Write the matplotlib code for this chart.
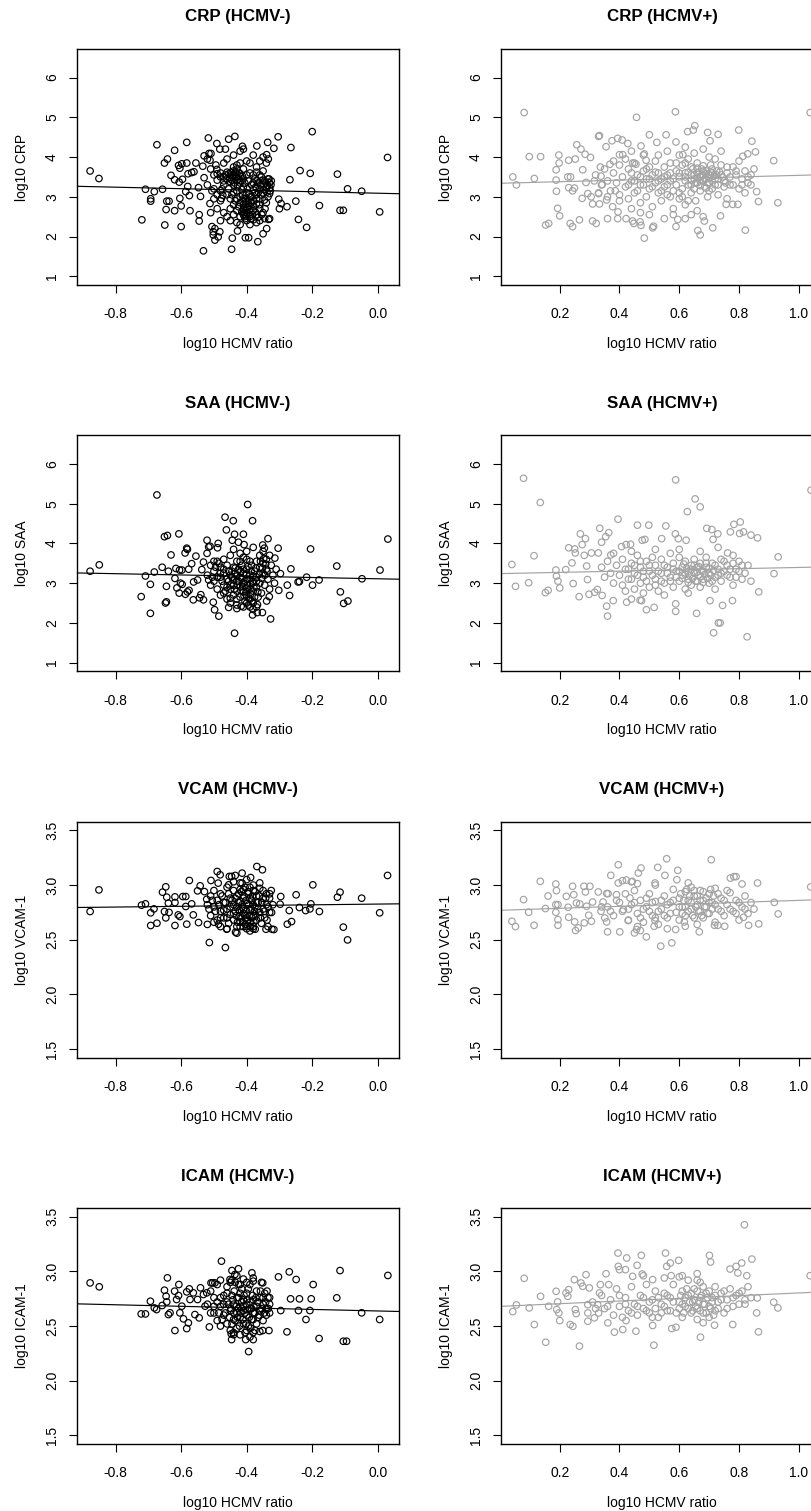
import numpy as np
import matplotlib
matplotlib.use('Agg')
import matplotlib.pyplot as plt
from matplotlib.ticker import FormatStrFormatter

plt.rcParams['font.family'] = ['Liberation Sans', 'DejaVu Sans']
plt.rcParams['axes.unicode_minus'] = False

# ---- values: (log10 HCMV ratio, log10 marker) ----
crp_neg = [
    (-0.878, 3.65), (-0.851, 3.46), (-0.72, 2.42), (-0.709, 3.19), (-0.693, 2.95), (-0.693, 2.89),
    (-0.682, 3.13), (-0.674, 4.31), (-0.657, 3.19), (-0.651, 3.85), (-0.642, 3.95), (-0.65, 2.29),
    (-0.646, 2.68), (-0.644, 2.89), (-0.637, 2.89), (-0.631, 3.54), (-0.62, 3.43), (-0.62, 4.17),
    (-0.62, 2.65), (-0.608, 3.79), (-0.604, 3.72), (-0.598, 3.83), (-0.606, 3.37), (-0.596, 3.44),
    (-0.604, 2.96), (-0.6, 2.77), (-0.6, 2.25), (-0.583, 4.37), (-0.583, 3.85), (-0.579, 3.58),
    (-0.586, 3.13), (-0.58, 3.26), (-0.573, 2.65), (-0.568, 3.61), (-0.561, 3.63), (-0.575, 3.03),
    (-0.555, 3.85), (-0.547, 3.23), (-0.545, 2.55), (-0.545, 2.39), (-0.541, 3.01), (-0.534, 3.77),
    (-0.532, 1.64), (-0.53, 3.48), (-0.53, 4.03), (-0.517, 4.48), (-0.515, 4.09), (-0.509, 4.09),
    (-0.512, 3.92), (-0.512, 2.83), (-0.506, 3.15), (-0.506, 2.25), (-0.502, 2.12), (-0.502, 2.04),
    (-0.497, 2.2), (-0.497, 1.91), (-0.491, 4.34), (-0.494, 3.8), (-0.491, 3.69), (-0.487, 1.99),
    (-0.482, 2.12), (-0.482, 4.2), (-0.477, 2.96), (-0.473, 3.04), (-0.465, 4.2), (-0.455, 4.45),
    (-0.436, 4.52), (-0.444, 1.96), (-0.446, 1.68), (-0.428, 2.14), (-0.413, 4.27), (-0.404, 1.97),
    (-0.394, 1.97), (-0.366, 1.87), (-0.35, 2.07), (-0.339, 2.2), (-0.333, 2.43), (-0.304, 4.51),
    (-0.336, 4.37), (-0.369, 4.28), (-0.317, 4.22), (-0.339, 4.06), (-0.334, 3.95), (-0.302, 2.94),
    (-0.3, 2.7), (-0.295, 2.83), (-0.277, 2.75), (-0.265, 4.24), (-0.268, 3.43), (-0.25, 2.89),
    (-0.242, 2.43), (-0.237, 3.66), (-0.217, 2.23), (-0.206, 3.59), (-0.202, 3.14), (-0.2, 4.64),
    (-0.178, 2.78), (-0.123, 3.57), (-0.115, 2.66), (-0.105, 2.66), (-0.092, 3.2), (-0.049, 3.14),
    (0.006, 2.62), (0.03, 3.99),
    (-0.50, 3.55), (-0.49, 3.42), (-0.48, 3.60), (-0.47, 3.50), (-0.47, 3.30), (-0.46, 3.62),
    (-0.46, 3.45), (-0.455, 3.20), (-0.45, 3.55), (-0.45, 3.38), (-0.445, 3.05), (-0.44, 3.65),
    (-0.44, 3.48), (-0.44, 3.30), (-0.435, 2.90), (-0.43, 3.58), (-0.43, 3.40), (-0.43, 3.15),
    (-0.425, 2.75), (-0.42, 3.52), (-0.42, 3.35), (-0.42, 3.00), (-0.415, 2.62), (-0.41, 3.45),
    (-0.41, 3.25), (-0.41, 2.95), (-0.41, 2.80), (-0.41, 2.68), (-0.41, 2.55), (-0.405, 2.45),
    (-0.40, 3.10), (-0.40, 2.88), (-0.40, 2.72), (-0.40, 2.60), (-0.40, 2.40), (-0.395, 3.40),
    (-0.39, 3.00), (-0.39, 2.78), (-0.39, 2.50), (-0.385, 3.30), (-0.38, 3.18), (-0.38, 2.90),
    (-0.38, 2.65), (-0.38, 2.42), (-0.375, 3.45), (-0.37, 3.05), (-0.37, 2.82), (-0.37, 2.55),
    (-0.365, 3.35), (-0.36, 3.20), (-0.36, 2.95), (-0.36, 2.70), (-0.355, 3.50), (-0.35, 3.30),
    (-0.35, 3.10), (-0.35, 2.60), (-0.345, 3.40), (-0.34, 3.25), (-0.34, 2.85), (-0.335, 3.45),
    (-0.33, 3.35), (-0.33, 3.22), (-0.33, 3.08), (-0.325, 3.40), (-0.33, 2.45), (-0.345, 2.45),
    (-0.47, 3.85), (-0.46, 3.95), (-0.44, 4.05), (-0.43, 3.80), (-0.42, 4.15), (-0.41, 4.20),
    (-0.40, 3.90), (-0.39, 3.85), (-0.38, 4.05), (-0.37, 3.75), (-0.36, 3.90), (-0.35, 4.00),
    (-0.34, 3.85), (-0.48, 2.90), (-0.47, 2.60), (-0.46, 2.50), (-0.45, 2.40), (-0.44, 2.55),
    (-0.43, 2.35), (-0.42, 2.30), (-0.39, 2.30), (-0.37, 2.35), (-0.36, 2.40), (-0.52, 3.95),
    (-0.51, 3.70), (-0.50, 3.20), (-0.50, 2.95), (-0.49, 3.05), (-0.49, 2.70), (-0.48, 3.15),
    (-0.52, 3.30), (-0.51, 2.60), (-0.48, 2.40),
]
crp_neg_core = [
    (-0.455, 3.58), (-0.452, 3.48), (-0.448, 3.62), (-0.445, 3.42), (-0.442, 3.55), (-0.438, 3.35),
    (-0.435, 3.62), (-0.432, 3.50), (-0.428, 3.28), (-0.425, 3.45), (-0.422, 3.60), (-0.418, 3.40),
    (-0.415, 3.18), (-0.413, 3.52), (-0.412, 3.05), (-0.411, 2.88), (-0.409, 2.72), (-0.408, 2.60),
    (-0.407, 2.50), (-0.406, 3.35), (-0.404, 2.95), (-0.403, 2.82), (-0.402, 2.66), (-0.401, 2.52),
    (-0.398, 3.20), (-0.397, 2.75), (-0.396, 2.58), (-0.394, 2.90), (-0.392, 3.08), (-0.390, 2.68),
    (-0.388, 2.45), (-0.386, 2.85), (-0.384, 3.00), (-0.382, 2.55), (-0.380, 3.35), (-0.378, 2.75),
    (-0.376, 3.10), (-0.374, 2.62), (-0.372, 3.25), (-0.370, 2.95), (-0.368, 3.40), (-0.366, 2.48),
    (-0.364, 3.12), (-0.362, 2.80), (-0.358, 3.30), (-0.356, 3.05), (-0.352, 3.42), (-0.348, 3.18),
    (-0.346, 2.92), (-0.342, 3.35), (-0.338, 3.12), (-0.336, 3.28), (-0.332, 3.45), (-0.328, 3.15),
    (-0.326, 3.30), (-0.335, 3.00), (-0.344, 2.70), (-0.354, 2.55), (-0.43, 3.70), (-0.44, 3.75),
    (-0.42, 3.85), (-0.41, 3.70), (-0.40, 3.55), (-0.39, 3.60), (-0.38, 3.55), (-0.37, 3.62),
    (-0.36, 3.55), (-0.35, 3.65), (-0.47, 3.40), (-0.465, 3.55), (-0.48, 3.50), (-0.49, 3.58),
    (-0.475, 3.20), (-0.46, 3.05), (-0.45, 2.95), (-0.44, 2.80), (-0.43, 2.65), (-0.42, 2.50),
    (-0.43, 2.95), (-0.44, 3.12), (-0.42, 2.85), (-0.45, 2.70),
]

crp_pos = [
    (0.043, 3.5), (0.055, 3.3), (0.081, 5.12), (0.098, 4.01), (0.115, 3.46), (0.136, 4.01),
    (0.153, 2.29), (0.163, 2.33), (0.188, 3.42), (0.189, 3.14), (0.193, 2.71), (0.197, 4.05),
    (0.198, 3.85), (0.2, 2.52), (0.188, 3.68), (0.23, 3.92), (0.227, 3.5), (0.236, 3.5),
    (0.23, 3.23), (0.235, 2.33), (0.243, 2.25), (0.243, 3.15), (0.249, 3.22), (0.252, 3.95),
    (0.257, 4.31), (0.266, 2.42), (0.271, 4.2), (0.277, 3.68), (0.275, 2.96), (0.285, 4.07),
    (0.288, 3.36), (0.294, 3.08), (0.303, 3.99), (0.305, 3.0), (0.31, 2.82), (0.31, 2.39),
    (0.322, 2.33), (0.316, 3.4), (0.33, 4.52), (0.333, 4.54), (0.336, 3.75), (0.338, 3.52),
    (0.33, 3.08), (0.333, 2.82), (0.342, 3.31), (0.355, 4.26), (0.357, 2.92), (0.36, 2.45),
    (0.368, 3.82), (0.375, 4.41), (0.394, 4.47), (0.409, 4.43), (0.377, 2.75), (0.386, 3.15),
    (0.394, 2.45), (0.395, 2.62), (0.4, 4.06), (0.411, 4.06), (0.422, 2.45), (0.444, 2.39),
    (0.448, 2.33), (0.428, 4.34), (0.444, 3.85), (0.455, 3.82), (0.457, 5.0), (0.469, 2.37),
    (0.472, 2.28), (0.483, 1.96), (0.472, 4.28), (0.5, 4.56), (0.483, 4.08), (0.489, 3.92),
    (0.511, 2.22), (0.514, 2.26), (0.525, 4.37), (0.556, 4.56), (0.587, 5.14), (0.589, 4.38),
    (0.589, 2.25), (0.595, 2.43), (0.612, 4.06), (0.628, 4.64), (0.647, 4.68), (0.652, 4.79),
    (0.662, 2.15), (0.67, 2.04), (0.684, 2.39), (0.712, 2.22), (0.695, 4.62), (0.703, 4.41),
    (0.73, 4.57), (0.738, 2.52), (0.757, 2.81), (0.779, 2.81), (0.796, 2.81), (0.799, 4.68),
    (0.813, 4.02), (0.829, 4.08), (0.855, 4.13), (0.821, 2.16), (0.843, 4.4), (0.859, 3.13),
    (0.865, 2.88), (0.916, 3.91), (0.93, 2.85), (1.038, 5.12),
    (0.32, 3.55), (0.34, 3.30), (0.35, 3.70), (0.36, 3.40), (0.37, 3.15), (0.38, 3.60),
    (0.39, 3.35), (0.40, 3.80), (0.40, 3.05), (0.41, 3.50), (0.42, 3.25), (0.43, 3.70),
    (0.43, 2.95), (0.44, 3.40), (0.45, 3.85), (0.45, 3.10), (0.46, 3.55), (0.47, 3.30),
    (0.47, 2.85), (0.48, 3.65), (0.49, 3.45), (0.49, 3.00), (0.50, 3.75), (0.50, 3.20),
    (0.51, 3.55), (0.51, 2.75), (0.52, 3.35), (0.52, 3.90), (0.53, 3.10), (0.53, 3.60),
    (0.54, 3.45), (0.54, 2.90), (0.55, 3.75), (0.55, 3.25), (0.56, 3.55), (0.56, 3.05),
    (0.57, 3.85), (0.57, 3.40), (0.58, 3.15), (0.58, 2.70), (0.59, 3.65), (0.59, 3.30),
    (0.60, 2.95), (0.60, 3.50), (0.61, 3.80), (0.61, 3.20), (0.62, 3.60), (0.62, 3.40),
    (0.62, 2.80), (0.63, 3.95), (0.63, 3.30), (0.64, 3.55), (0.64, 3.10), (0.645, 3.70),
    (0.65, 3.45), (0.65, 3.20), (0.655, 2.90), (0.66, 3.85), (0.66, 3.60), (0.66, 3.35),
    (0.67, 3.50), (0.67, 3.15), (0.675, 3.70), (0.68, 3.40), (0.68, 3.55), (0.685, 3.25),
    (0.69, 3.65), (0.69, 3.45), (0.695, 3.00), (0.70, 3.55), (0.70, 3.35), (0.705, 3.80),
    (0.71, 3.60), (0.71, 3.20), (0.72, 3.45), (0.72, 3.95), (0.725, 3.65), (0.73, 3.30),
    (0.73, 3.05), (0.74, 3.55), (0.74, 3.80), (0.75, 3.40), (0.75, 3.25), (0.76, 3.60),
    (0.76, 2.95), (0.77, 3.50), (0.78, 3.30), (0.78, 3.75), (0.79, 3.55), (0.80, 3.20),
    (0.80, 3.90), (0.81, 3.45), (0.82, 3.65), (0.82, 3.10), (0.83, 3.35), (0.84, 3.55),
    (0.85, 3.70), (0.66, 2.65), (0.64, 2.55), (0.62, 2.45), (0.68, 2.50), (0.58, 2.55),
    (0.55, 2.45), (0.50, 2.55), (0.47, 2.60), (0.44, 2.70), (0.40, 2.90), (0.36, 3.00),
    (0.33, 3.10), (0.60, 4.05), (0.65, 4.10), (0.68, 4.20), (0.70, 4.00), (0.74, 4.15),
    (0.62, 4.25), (0.56, 4.15), (0.53, 4.05), (0.48, 4.05), (0.44, 4.15), (0.42, 3.95),
    (0.38, 3.90),
]
crp_pos_core = [
    (0.62, 3.50), (0.63, 3.62), (0.64, 3.42), (0.65, 3.55), (0.655, 3.35), (0.66, 3.48),
    (0.665, 3.62), (0.67, 3.40), (0.675, 3.55), (0.68, 3.65), (0.685, 3.45), (0.69, 3.58),
    (0.695, 3.35), (0.70, 3.48), (0.705, 3.62), (0.71, 3.40), (0.715, 3.52), (0.72, 3.30),
    (0.725, 3.55), (0.73, 3.45), (0.735, 3.62), (0.745, 3.50), (0.755, 3.35), (0.67, 3.28),
    (0.69, 3.22), (0.71, 3.70), (0.64, 3.30), (0.66, 3.72), (0.68, 3.78), (0.70, 3.15),
    (0.58, 3.45), (0.57, 3.60), (0.56, 3.30), (0.55, 3.50), (0.54, 3.15), (0.53, 3.40),
    (0.52, 3.62), (0.51, 3.25), (0.50, 3.45), (0.49, 3.70), (0.48, 3.30), (0.47, 3.50),
    (0.46, 3.15), (0.45, 3.40), (0.44, 3.60), (0.43, 3.30), (0.60, 3.10), (0.61, 3.00),
    (0.63, 2.90), (0.64, 3.75), (0.62, 3.85), (0.76, 3.75), (0.77, 3.30), (0.79, 3.65),
    (0.81, 3.30), (0.83, 3.50), (0.84, 3.30), (0.60, 3.60), (0.59, 3.85), (0.57, 3.00),
]

saa_neg = [
    (-0.878, 3.30), (-0.85, 3.46), (-0.722, 2.66), (-0.709, 3.18), (-0.694, 2.97), (-0.694, 2.24),
    (-0.682, 3.28), (-0.674, 5.22), (-0.658, 3.4), (-0.651, 4.17), (-0.642, 4.2), (-0.648, 2.5),
    (-0.645, 2.53), (-0.645, 2.92), (-0.639, 3.3), (-0.631, 3.71), (-0.619, 3.12), (-0.616, 3.37),
    (-0.607, 4.24), (-0.613, 2.88), (-0.606, 2.75), (-0.602, 3.0), (-0.597, 2.97), (-0.605, 3.33),
    (-0.598, 3.33), (-0.588, 3.76), (-0.583, 3.88), (-0.581, 3.85), (-0.587, 2.72), (-0.581, 2.78),
    (-0.576, 2.82), (-0.577, 3.35), (-0.568, 3.49), (-0.555, 3.68), (-0.562, 3.03), (-0.55, 3.08),
    (-0.563, 2.58), (-0.544, 2.63), (-0.54, 2.71), (-0.532, 2.58), (-0.537, 3.34), (-0.532, 3.53),
    (-0.521, 4.08), (-0.521, 3.75), (-0.516, 3.91), (-0.512, 3.93), (-0.516, 3.08), (-0.502, 2.52),
    (-0.498, 2.33), (-0.485, 2.17), (-0.487, 4.0), (-0.489, 3.89), (-0.466, 4.66), (-0.441, 4.57),
    (-0.462, 4.34), (-0.437, 4.23), (-0.444, 4.08), (-0.425, 4.03), (-0.41, 4.23), (-0.408, 3.97),
    (-0.397, 4.98), (-0.382, 4.57), (-0.437, 1.74), (-0.455, 2.39), (-0.43, 2.36), (-0.417, 2.42),
    (-0.381, 2.34), (-0.382, 2.2), (-0.368, 2.26), (-0.352, 2.26), (-0.367, 2.46), (-0.327, 2.1),
    (-0.351, 3.96), (-0.346, 3.88), (-0.335, 4.12), (-0.304, 3.88), (-0.314, 3.63), (-0.302, 2.82),
    (-0.331, 2.66), (-0.339, 2.55), (-0.297, 3.24), (-0.276, 2.95), (-0.269, 2.69), (-0.265, 3.36),
    (-0.243, 3.03), (-0.239, 3.04), (-0.217, 3.15), (-0.205, 3.86), (-0.199, 2.95), (-0.179, 3.08),
    (-0.125, 3.43), (-0.114, 2.78), (-0.104, 2.49), (-0.091, 2.55), (-0.048, 3.11), (0.007, 3.33),
    (0.031, 4.11),
    (-0.52, 3.20), (-0.51, 3.45), (-0.51, 2.95), (-0.50, 3.30), (-0.50, 3.05), (-0.49, 3.55),
    (-0.49, 2.85), (-0.48, 3.40), (-0.48, 3.15), (-0.48, 2.70), (-0.47, 3.60), (-0.47, 3.25),
    (-0.47, 2.95), (-0.46, 3.45), (-0.46, 3.10), (-0.46, 2.60), (-0.455, 3.30), (-0.45, 2.85),
    (-0.45, 3.70), (-0.445, 3.15), (-0.44, 3.40), (-0.44, 2.95), (-0.44, 2.70), (-0.435, 3.25),
    (-0.43, 3.05), (-0.43, 3.55), (-0.43, 2.80), (-0.425, 3.35), (-0.42, 3.15), (-0.42, 2.90),
    (-0.42, 2.65), (-0.415, 3.45), (-0.41, 3.25), (-0.41, 3.00), (-0.41, 2.78), (-0.405, 2.55),
    (-0.40, 3.60), (-0.40, 3.35), (-0.40, 3.10), (-0.40, 2.88), (-0.40, 2.70), (-0.395, 2.45),
    (-0.39, 3.20), (-0.39, 2.98), (-0.39, 2.60), (-0.385, 3.45), (-0.38, 3.05), (-0.38, 2.80),
    (-0.375, 3.30), (-0.37, 3.55), (-0.37, 3.15), (-0.37, 2.90), (-0.365, 2.65), (-0.36, 3.40),
    (-0.36, 3.70), (-0.36, 3.00), (-0.355, 2.75), (-0.35, 3.25), (-0.35, 3.50), (-0.345, 2.95),
    (-0.34, 3.35), (-0.34, 3.60), (-0.335, 3.10), (-0.33, 2.85), (-0.325, 3.45), (-0.32, 3.20),
    (-0.315, 3.00), (-0.31, 3.35), (-0.45, 2.50), (-0.43, 2.45), (-0.41, 2.40), (-0.38, 2.50),
    (-0.37, 2.40), (-0.40, 3.80), (-0.42, 3.75), (-0.44, 3.85), (-0.38, 3.90), (-0.35, 3.80),
    (-0.33, 3.70),
]
saa_neg_core = [
    (-0.455, 3.05), (-0.45, 3.20), (-0.448, 2.95), (-0.445, 3.30), (-0.44, 3.08), (-0.438, 2.85),
    (-0.435, 3.38), (-0.43, 3.18), (-0.428, 2.95), (-0.425, 3.05), (-0.42, 3.28), (-0.418, 2.82),
    (-0.415, 3.12), (-0.412, 2.92), (-0.41, 3.35), (-0.408, 2.68), (-0.405, 3.05), (-0.402, 2.78),
    (-0.40, 3.22), (-0.398, 2.95), (-0.396, 3.42), (-0.394, 2.62), (-0.392, 3.10), (-0.39, 2.85),
    (-0.388, 2.72), (-0.386, 3.30), (-0.384, 2.55), (-0.382, 3.00), (-0.38, 3.18), (-0.378, 2.88),
    (-0.376, 2.65), (-0.372, 3.38), (-0.37, 3.05), (-0.366, 2.78), (-0.362, 3.22), (-0.358, 3.55),
    (-0.355, 3.12), (-0.352, 3.38), (-0.348, 3.62), (-0.345, 3.20), (-0.342, 3.48), (-0.338, 3.30),
    (-0.47, 3.35), (-0.475, 3.05), (-0.48, 3.25), (-0.485, 3.50), (-0.49, 3.15), (-0.495, 3.40),
    (-0.50, 3.55), (-0.505, 3.15), (-0.465, 2.80), (-0.46, 2.90), (-0.47, 2.75), (-0.45, 2.62),
    (-0.43, 2.60), (-0.40, 2.50), (-0.39, 2.40), (-0.42, 3.55), (-0.41, 3.65), (-0.39, 3.55),
]

saa_pos = [
    (0.04, 3.47), (0.052, 2.92), (0.079, 5.64), (0.096, 3.01), (0.114, 3.69), (0.135, 5.03),
    (0.152, 2.76), (0.161, 2.82), (0.187, 3.33), (0.189, 3.18), (0.194, 3.05), (0.2, 2.88),
    (0.22, 3.34), (0.23, 3.89), (0.241, 3.51), (0.245, 2.99), (0.25, 3.86), (0.252, 3.76),
    (0.265, 2.66), (0.269, 4.24), (0.286, 4.12), (0.275, 3.97), (0.282, 3.7), (0.29, 3.43),
    (0.293, 3.09), (0.298, 2.72), (0.306, 3.76), (0.329, 3.76), (0.317, 2.77), (0.326, 2.84),
    (0.334, 4.38), (0.34, 4.03), (0.354, 4.17), (0.364, 4.27), (0.342, 2.69), (0.357, 2.42),
    (0.36, 2.17), (0.371, 3.71), (0.379, 2.56), (0.395, 4.61), (0.407, 3.92), (0.422, 3.97),
    (0.437, 3.98), (0.424, 2.52), (0.44, 2.6), (0.46, 4.46), (0.498, 4.46), (0.476, 4.08),
    (0.485, 4.1), (0.469, 2.57), (0.474, 2.56), (0.49, 2.33), (0.516, 2.39), (0.541, 4.12),
    (0.555, 4.44), (0.587, 4.24), (0.597, 4.12), (0.623, 4.08), (0.588, 5.6), (0.588, 2.48),
    (0.588, 2.29), (0.627, 4.8), (0.653, 5.12), (0.67, 4.92), (0.658, 2.24), (0.692, 4.38),
    (0.709, 4.35), (0.713, 4.1), (0.729, 4.24), (0.703, 2.56), (0.715, 1.75), (0.731, 2.0),
    (0.737, 2.0), (0.745, 2.44), (0.762, 3.76), (0.771, 4.29), (0.783, 4.48), (0.804, 4.54),
    (0.778, 2.56), (0.802, 4.25), (0.815, 4.29), (0.827, 1.65), (0.84, 4.21), (0.862, 4.14),
    (0.866, 2.78), (0.917, 3.24), (0.931, 3.66), (1.041, 5.34),
    (0.34, 3.40), (0.35, 3.15), (0.36, 3.55), (0.37, 3.25), (0.38, 3.00), (0.39, 3.45),
    (0.40, 3.20), (0.41, 3.60), (0.41, 2.95), (0.42, 3.35), (0.43, 3.10), (0.44, 3.50),
    (0.45, 2.85), (0.45, 3.25), (0.46, 3.70), (0.47, 3.00), (0.47, 3.40), (0.48, 3.15),
    (0.49, 3.55), (0.50, 2.90), (0.50, 3.30), (0.51, 3.65), (0.52, 3.10), (0.52, 3.45),
    (0.53, 2.80), (0.54, 3.25), (0.54, 3.60), (0.55, 3.00), (0.56, 3.40), (0.57, 3.15),
    (0.57, 3.75), (0.58, 2.90), (0.58, 3.50), (0.59, 3.30), (0.60, 3.05), (0.60, 3.65),
    (0.61, 3.40), (0.61, 3.20), (0.62, 2.85), (0.62, 3.55), (0.63, 3.30), (0.63, 3.10),
    (0.64, 3.45), (0.64, 2.95), (0.65, 3.25), (0.65, 3.60), (0.66, 3.05), (0.66, 3.40),
    (0.665, 3.20), (0.67, 2.90), (0.67, 3.50), (0.68, 3.30), (0.68, 3.10), (0.69, 3.40),
    (0.69, 3.65), (0.70, 3.00), (0.70, 3.25), (0.71, 3.50), (0.72, 3.15), (0.72, 2.85),
    (0.73, 3.35), (0.74, 3.60), (0.74, 3.05), (0.75, 3.30), (0.76, 3.45), (0.77, 3.15),
    (0.78, 3.70), (0.78, 2.95), (0.79, 3.35), (0.80, 3.55), (0.81, 3.10), (0.82, 3.25),
    (0.83, 3.45), (0.84, 3.05), (0.55, 2.70), (0.48, 2.75), (0.42, 2.80), (0.63, 2.75),
    (0.60, 3.85), (0.67, 3.80), (0.73, 3.90), (0.52, 3.85), (0.44, 3.80), (0.38, 3.75),
]
saa_pos_core = [
    (0.60, 3.30), (0.61, 3.12), (0.615, 3.48), (0.62, 3.22), (0.625, 3.38), (0.63, 3.02),
    (0.635, 3.20), (0.64, 3.35), (0.645, 3.12), (0.65, 3.45), (0.655, 3.05), (0.66, 3.28),
    (0.665, 3.42), (0.67, 3.15), (0.675, 3.32), (0.68, 3.02), (0.685, 3.22), (0.69, 3.50),
    (0.695, 3.12), (0.70, 3.38), (0.705, 3.20), (0.71, 3.05), (0.715, 3.32), (0.72, 3.45),
    (0.73, 3.20), (0.59, 3.15), (0.58, 3.35), (0.57, 3.05), (0.56, 3.25), (0.55, 3.45),
    (0.54, 3.05), (0.53, 3.30), (0.52, 2.95), (0.51, 3.20), (0.50, 3.45), (0.49, 3.05),
    (0.48, 3.30), (0.47, 3.55), (0.46, 3.20), (0.45, 3.45), (0.44, 3.10), (0.43, 3.35),
    (0.76, 3.20), (0.77, 3.35), (0.78, 3.50), (0.79, 3.15), (0.80, 3.30), (0.81, 3.45),
    (0.75, 3.55), (0.74, 3.25),
]

vcam_neg = [
    (-0.878, 2.758), (-0.851, 2.956), (-0.721, 2.816), (-0.709, 2.828), (-0.693, 2.746), (-0.693, 2.63),
    (-0.683, 2.782), (-0.674, 2.651), (-0.657, 2.935), (-0.651, 2.758), (-0.647, 2.984), (-0.644, 2.889),
    (-0.639, 2.834), (-0.647, 2.70), (-0.637, 2.75), (-0.619, 2.892), (-0.619, 2.84), (-0.619, 2.63),
    (-0.609, 2.727), (-0.604, 2.712), (-0.595, 2.895), (-0.586, 2.895), (-0.586, 2.804), (-0.583, 2.642),
    (-0.575, 3.042), (-0.568, 2.828), (-0.563, 2.727), (-0.547, 2.657), (-0.542, 2.993), (-0.55, 2.947),
    (-0.529, 2.94), (-0.522, 2.87), (-0.52, 2.64), (-0.514, 2.474), (-0.509, 3.042), (-0.49, 3.124),
    (-0.487, 3.018), (-0.481, 3.094), (-0.486, 2.642), (-0.465, 2.428), (-0.461, 2.596), (-0.453, 3.079),
    (-0.446, 3.079), (-0.435, 3.088), (-0.455, 3.002), (-0.434, 2.569), (-0.414, 3.109), (-0.414, 3.018),
    (-0.388, 3.069), (-0.369, 3.17), (-0.352, 3.14), (-0.374, 2.596), (-0.341, 2.596), (-0.323, 2.596),
    (-0.317, 2.593), (-0.324, 2.749), (-0.298, 2.825), (-0.296, 2.895), (-0.276, 2.642), (-0.27, 2.767),
    (-0.263, 2.666), (-0.249, 2.911), (-0.239, 2.795), (-0.22, 2.767), (-0.204, 2.828), (-0.198, 3.002),
    (-0.207, 2.782), (-0.178, 2.758), (-0.123, 2.889), (-0.115, 2.935), (-0.105, 2.615), (-0.092, 2.498),
    (-0.049, 2.88), (0.006, 2.746), (0.03, 3.088),
    (-0.52, 2.82), (-0.51, 2.90), (-0.51, 2.72), (-0.50, 2.95), (-0.50, 2.80), (-0.49, 2.68),
    (-0.49, 2.86), (-0.48, 2.76), (-0.48, 2.92), (-0.47, 2.70), (-0.47, 2.84), (-0.46, 2.98),
    (-0.46, 2.78), (-0.455, 2.65), (-0.45, 2.88), (-0.45, 2.73), (-0.44, 2.95), (-0.44, 2.82),
    (-0.44, 2.68), (-0.435, 2.76), (-0.43, 2.90), (-0.43, 2.62), (-0.425, 2.84), (-0.42, 2.72),
    (-0.42, 2.96), (-0.42, 2.66), (-0.415, 2.80), (-0.41, 2.88), (-0.41, 2.74), (-0.41, 2.62),
    (-0.405, 2.98), (-0.40, 2.83), (-0.40, 2.70), (-0.40, 2.60), (-0.395, 2.92), (-0.39, 2.77),
    (-0.39, 2.66), (-0.385, 2.86), (-0.38, 2.95), (-0.38, 2.72), (-0.38, 2.62), (-0.375, 2.80),
    (-0.37, 2.90), (-0.37, 2.68), (-0.365, 2.84), (-0.36, 2.75), (-0.36, 2.97), (-0.355, 2.65),
    (-0.35, 2.88), (-0.35, 2.78), (-0.345, 2.70), (-0.34, 2.92), (-0.34, 2.82), (-0.335, 2.62),
    (-0.33, 2.88), (-0.33, 2.75), (-0.325, 2.95), (-0.32, 2.82), (-0.42, 3.02), (-0.40, 3.05),
    (-0.38, 3.00), (-0.36, 3.02), (-0.44, 3.03), (-0.46, 2.60), (-0.39, 2.58), (-0.43, 2.56),
    (-0.50, 2.66), (-0.48, 2.62),
]
vcam_neg_core = [
    (-0.435, 2.88), (-0.432, 2.72), (-0.43, 2.80), (-0.428, 2.66), (-0.425, 2.92), (-0.422, 2.77),
    (-0.42, 2.85), (-0.418, 2.70), (-0.416, 2.94), (-0.414, 2.82), (-0.412, 2.66), (-0.41, 2.78),
    (-0.408, 2.90), (-0.406, 2.72), (-0.404, 2.64), (-0.402, 2.86), (-0.40, 2.76), (-0.398, 2.68),
    (-0.396, 2.94), (-0.394, 2.82), (-0.392, 2.72), (-0.39, 2.88), (-0.388, 2.62), (-0.386, 2.78),
    (-0.384, 2.70), (-0.382, 2.90), (-0.38, 2.82), (-0.378, 2.66), (-0.376, 2.76), (-0.374, 2.94),
    (-0.372, 2.72), (-0.37, 2.84), (-0.366, 2.78), (-0.362, 2.90), (-0.358, 2.70), (-0.354, 2.84),
    (-0.35, 2.95), (-0.346, 2.76), (-0.342, 2.88), (-0.338, 2.68), (-0.334, 2.80), (-0.33, 2.92),
    (-0.44, 2.74), (-0.445, 2.86), (-0.45, 2.80), (-0.455, 2.92), (-0.46, 2.70), (-0.465, 2.84),
    (-0.47, 2.77), (-0.475, 2.90), (-0.48, 2.70), (-0.485, 2.82), (-0.495, 2.76), (-0.505, 2.86),
    (-0.515, 2.78), (-0.41, 2.96), (-0.39, 2.98), (-0.40, 2.62), (-0.42, 2.62), (-0.38, 2.60),
]

vcam_pos = [
    (0.04, 2.669), (0.052, 2.62), (0.079, 2.867), (0.096, 2.751), (0.114, 2.632), (0.135, 3.034),
    (0.152, 2.785), (0.161, 2.9), (0.187, 3.01), (0.189, 2.949), (0.187, 2.821), (0.194, 2.821),
    (0.187, 2.751), (0.194, 2.684), (0.194, 2.632), (0.222, 2.897), (0.23, 2.705), (0.228, 2.797),
    (0.243, 2.989), (0.247, 2.912), (0.25, 2.663), (0.253, 2.584), (0.262, 2.608), (0.256, 2.836),
    (0.267, 2.827), (0.281, 2.989), (0.301, 2.989), (0.282, 2.654), (0.286, 2.937), (0.29, 2.806),
    (0.297, 2.724), (0.306, 2.669), (0.31, 2.845), (0.329, 2.937), (0.338, 2.76), (0.345, 2.845),
    (0.357, 2.922), (0.362, 2.922), (0.36, 2.572), (0.371, 3.089), (0.351, 2.699), (0.357, 2.663),
    (0.39, 2.912), (0.396, 3.186), (0.401, 2.572), (0.396, 3.019), (0.41, 3.04), (0.423, 3.046),
    (0.413, 2.775), (0.429, 2.675), (0.435, 2.882), (0.443, 3.034), (0.45, 2.562), (0.457, 2.593),
    (0.47, 2.584), (0.46, 3.013), (0.463, 3.11), (0.472, 3.156), (0.49, 2.526), (0.516, 2.623),
    (0.519, 2.675), (0.519, 3.019), (0.528, 3.162), (0.538, 2.441), (0.552, 3.089), (0.558, 3.241),
    (0.575, 2.471), (0.588, 2.593), (0.595, 3.135), (0.592, 3.049), (0.62, 2.623), (0.617, 2.663),
    (0.667, 2.572), (0.707, 3.232), (0.718, 2.632), (0.729, 2.632), (0.752, 2.623), (0.771, 3.064),
    (0.783, 3.077), (0.79, 3.077), (0.81, 3.01), (0.815, 2.705), (0.832, 2.632), (0.862, 3.019),
    (0.866, 2.645), (0.918, 2.842), (0.931, 2.736), (1.04, 2.983),
    (0.36, 2.80), (0.38, 2.72), (0.39, 2.86), (0.41, 2.76), (0.42, 2.92), (0.43, 2.68),
    (0.44, 2.82), (0.45, 2.95), (0.46, 2.74), (0.47, 2.86), (0.48, 2.66), (0.49, 2.80),
    (0.50, 2.92), (0.51, 2.72), (0.52, 2.85), (0.53, 2.64), (0.54, 2.78), (0.55, 2.90),
    (0.56, 2.70), (0.57, 2.84), (0.58, 2.96), (0.59, 2.75), (0.60, 2.88), (0.60, 2.68),
    (0.61, 2.80), (0.62, 2.94), (0.62, 2.72), (0.63, 2.86), (0.64, 2.78), (0.64, 2.98),
    (0.65, 2.70), (0.65, 2.90), (0.66, 2.82), (0.66, 2.64), (0.67, 2.76), (0.67, 2.95),
    (0.68, 2.86), (0.68, 2.70), (0.69, 2.80), (0.70, 2.92), (0.70, 2.74), (0.71, 2.84),
    (0.72, 2.66), (0.72, 2.97), (0.73, 2.78), (0.74, 2.88), (0.75, 2.72), (0.76, 2.82),
    (0.77, 2.93), (0.78, 2.76), (0.79, 2.86), (0.80, 2.68), (0.81, 2.80), (0.82, 2.90),
    (0.83, 2.74), (0.84, 2.84), (0.85, 2.78), (0.46, 2.62), (0.56, 2.60), (0.63, 3.02),
    (0.52, 3.00), (0.44, 3.03),
]
vcam_pos_core = [
    (0.60, 2.80), (0.605, 2.92), (0.61, 2.74), (0.615, 2.86), (0.62, 2.80), (0.625, 2.96),
    (0.63, 2.76), (0.635, 2.90), (0.64, 2.84), (0.645, 2.72), (0.65, 2.95), (0.655, 2.80),
    (0.66, 2.90), (0.665, 2.76), (0.67, 2.86), (0.675, 2.72), (0.68, 2.94), (0.685, 2.80),
    (0.69, 2.88), (0.695, 2.74), (0.70, 2.84), (0.705, 2.96), (0.71, 2.78), (0.715, 2.90),
    (0.72, 2.82), (0.73, 2.92), (0.74, 2.76), (0.75, 2.86), (0.58, 2.86), (0.57, 2.74),
    (0.56, 2.82), (0.55, 2.72), (0.54, 2.86), (0.53, 2.76), (0.52, 2.70), (0.51, 2.84),
    (0.50, 2.76), (0.49, 2.88), (0.48, 2.78), (0.47, 2.70), (0.45, 2.84), (0.43, 2.78),
    (0.40, 2.84), (0.37, 2.76), (0.34, 2.80), (0.77, 2.78), (0.79, 2.74), (0.80, 2.84),
    (0.82, 2.78), (0.76, 2.95),
]

icam_neg = [
    (-0.878, 2.895), (-0.85, 2.859), (-0.722, 2.611), (-0.709, 2.611), (-0.694, 2.727), (-0.682, 2.666),
    (-0.675, 2.651), (-0.658, 2.688), (-0.651, 2.828), (-0.642, 2.941), (-0.646, 2.773), (-0.644, 2.721),
    (-0.639, 2.605), (-0.634, 2.621), (-0.619, 2.459), (-0.62, 2.819), (-0.614, 2.743), (-0.607, 2.88),
    (-0.608, 2.779), (-0.604, 2.621), (-0.598, 2.682), (-0.593, 2.566), (-0.583, 2.477), (-0.583, 2.813),
    (-0.575, 2.84), (-0.578, 2.529), (-0.573, 2.743), (-0.563, 2.804), (-0.558, 2.605), (-0.55, 2.743),
    (-0.545, 2.575), (-0.541, 2.85), (-0.532, 2.789), (-0.527, 2.682), (-0.522, 2.804), (-0.514, 2.492),
    (-0.509, 2.895), (-0.504, 2.895), (-0.497, 2.895), (-0.477, 3.094), (-0.445, 3.008), (-0.425, 3.024),
    (-0.436, 2.972), (-0.451, 2.926), (-0.446, 2.917), (-0.447, 2.428), (-0.446, 2.376), (-0.425, 2.88),
    (-0.403, 2.376), (-0.38, 2.376), (-0.394, 2.266), (-0.384, 2.987), (-0.38, 2.911), (-0.351, 2.459),
    (-0.332, 2.459), (-0.351, 2.895), (-0.303, 2.95), (-0.296, 2.642), (-0.277, 2.447), (-0.27, 2.996),
    (-0.266, 2.749), (-0.249, 2.926), (-0.242, 2.642), (-0.239, 2.749), (-0.219, 2.56), (-0.207, 2.642),
    (-0.203, 2.749), (-0.197, 2.88), (-0.179, 2.386), (-0.125, 2.758), (-0.115, 3.008), (-0.105, 2.361),
    (-0.095, 2.361), (-0.049, 2.621), (0.006, 2.56), (0.031, 2.963),
    (-0.52, 2.70), (-0.51, 2.82), (-0.50, 2.62), (-0.50, 2.76), (-0.49, 2.55), (-0.49, 2.88),
    (-0.48, 2.68), (-0.48, 2.50), (-0.47, 2.78), (-0.47, 2.60), (-0.46, 2.72), (-0.46, 2.52),
    (-0.46, 2.86), (-0.45, 2.64), (-0.45, 2.46), (-0.445, 2.78), (-0.44, 2.56), (-0.44, 2.70),
    (-0.435, 2.90), (-0.43, 2.62), (-0.43, 2.48), (-0.425, 2.76), (-0.42, 2.58), (-0.42, 2.68),
    (-0.415, 2.84), (-0.41, 2.52), (-0.41, 2.64), (-0.41, 2.74), (-0.405, 2.44), (-0.40, 2.60),
    (-0.40, 2.80), (-0.40, 2.70), (-0.395, 2.50), (-0.39, 2.66), (-0.39, 2.88), (-0.385, 2.56),
    (-0.38, 2.74), (-0.38, 2.62), (-0.375, 2.46), (-0.37, 2.82), (-0.37, 2.68), (-0.365, 2.58),
    (-0.36, 2.76), (-0.36, 2.64), (-0.355, 2.90), (-0.35, 2.70), (-0.35, 2.55), (-0.345, 2.80),
    (-0.34, 2.66), (-0.34, 2.60), (-0.335, 2.76), (-0.33, 2.70), (-0.33, 2.62), (-0.41, 2.93),
    (-0.38, 2.94), (-0.43, 2.96), (-0.48, 2.92), (-0.44, 2.42), (-0.39, 2.40), (-0.36, 2.45),
]
icam_neg_core = [
    (-0.455, 2.70), (-0.452, 2.58), (-0.448, 2.66), (-0.445, 2.52), (-0.442, 2.74), (-0.44, 2.62),
    (-0.438, 2.82), (-0.435, 2.55), (-0.432, 2.68), (-0.43, 2.76), (-0.428, 2.58), (-0.425, 2.66),
    (-0.422, 2.50), (-0.42, 2.80), (-0.418, 2.62), (-0.415, 2.72), (-0.412, 2.56), (-0.41, 2.68),
    (-0.408, 2.78), (-0.405, 2.62), (-0.402, 2.52), (-0.40, 2.74), (-0.398, 2.65), (-0.395, 2.84),
    (-0.392, 2.58), (-0.39, 2.72), (-0.388, 2.48), (-0.385, 2.66), (-0.382, 2.78), (-0.38, 2.56),
    (-0.378, 2.68), (-0.375, 2.62), (-0.372, 2.76), (-0.37, 2.52), (-0.366, 2.72), (-0.362, 2.60),
    (-0.358, 2.82), (-0.354, 2.66), (-0.35, 2.76), (-0.346, 2.62), (-0.342, 2.72), (-0.338, 2.82),
    (-0.334, 2.66), (-0.33, 2.76), (-0.465, 2.62), (-0.47, 2.70), (-0.475, 2.56), (-0.48, 2.76),
    (-0.485, 2.62), (-0.49, 2.72), (-0.50, 2.68), (-0.51, 2.62), (-0.44, 2.44), (-0.42, 2.42),
    (-0.40, 2.46), (-0.38, 2.44), (-0.46, 2.80), (-0.45, 2.90), (-0.42, 2.88), (-0.40, 2.90),
]

icam_pos = [
    (0.043, 2.632), (0.055, 2.693), (0.081, 2.937), (0.098, 2.666), (0.115, 2.514), (0.136, 2.772),
    (0.153, 2.352), (0.163, 2.681), (0.188, 2.818), (0.19, 2.651), (0.197, 2.62), (0.193, 2.721),
    (0.2, 2.55), (0.221, 2.803), (0.227, 2.772), (0.23, 2.833), (0.235, 2.514), (0.244, 2.498),
    (0.249, 2.925), (0.252, 2.651), (0.255, 2.614), (0.266, 2.316), (0.271, 2.894), (0.277, 2.864),
    (0.288, 2.97), (0.294, 2.544), (0.294, 2.62), (0.294, 2.696), (0.299, 2.849), (0.316, 2.575),
    (0.327, 2.696), (0.333, 2.803), (0.336, 2.879), (0.355, 2.979), (0.361, 2.529), (0.364, 2.879),
    (0.383, 2.444), (0.395, 3.168), (0.396, 3.046), (0.4, 3.016), (0.411, 2.468), (0.42, 3.016),
    (0.424, 3.123), (0.422, 2.55), (0.444, 2.955), (0.455, 2.453), (0.459, 3.056), (0.473, 3.147),
    (0.476, 2.976), (0.511, 2.925), (0.515, 2.325), (0.511, 2.505), (0.554, 3.168), (0.558, 3.046),
    (0.57, 3.077), (0.573, 2.961), (0.575, 2.477), (0.589, 2.489), (0.598, 3.101), (0.61, 2.961),
    (0.671, 2.398), (0.701, 3.147), (0.705, 3.086), (0.718, 2.508), (0.77, 3.022), (0.779, 2.514),
    (0.79, 3.046), (0.809, 3.077), (0.796, 2.986), (0.818, 3.427), (0.826, 2.961), (0.843, 3.113),
    (0.859, 2.62), (0.865, 2.447), (0.861, 2.757), (0.916, 2.718), (0.93, 2.666), (1.038, 2.961),
    (0.31, 2.72), (0.33, 2.62), (0.34, 2.78), (0.35, 2.66), (0.37, 2.74), (0.38, 2.60),
    (0.39, 2.84), (0.40, 2.68), (0.41, 2.58), (0.42, 2.76), (0.43, 2.64), (0.44, 2.86),
    (0.45, 2.70), (0.46, 2.60), (0.47, 2.78), (0.48, 2.66), (0.49, 2.88), (0.50, 2.62),
    (0.51, 2.74), (0.52, 2.82), (0.53, 2.58), (0.54, 2.70), (0.55, 2.80), (0.56, 2.64),
    (0.57, 2.76), (0.58, 2.88), (0.59, 2.62), (0.60, 2.72), (0.61, 2.82), (0.61, 2.58),
    (0.62, 2.68), (0.63, 2.78), (0.63, 2.92), (0.64, 2.62), (0.645, 2.72), (0.65, 2.84),
    (0.66, 2.56), (0.66, 2.66), (0.67, 2.76), (0.67, 2.90), (0.68, 2.62), (0.68, 2.70),
    (0.69, 2.80), (0.70, 2.58), (0.70, 2.68), (0.71, 2.76), (0.72, 2.86), (0.72, 2.64),
    (0.73, 2.72), (0.74, 2.80), (0.75, 2.62), (0.76, 2.74), (0.77, 2.84), (0.78, 2.68),
    (0.79, 2.78), (0.80, 2.70), (0.81, 2.82), (0.82, 2.74), (0.83, 2.86), (0.84, 2.76),
    (0.60, 2.95), (0.66, 2.98), (0.55, 2.94), (0.48, 2.96), (0.68, 2.53),
]
icam_pos_core = [
    (0.60, 2.66), (0.605, 2.78), (0.61, 2.70), (0.615, 2.62), (0.62, 2.76), (0.625, 2.84),
    (0.63, 2.66), (0.635, 2.72), (0.64, 2.80), (0.645, 2.64), (0.65, 2.74), (0.655, 2.68),
    (0.66, 2.82), (0.665, 2.72), (0.67, 2.64), (0.675, 2.78), (0.68, 2.86), (0.685, 2.70),
    (0.69, 2.62), (0.695, 2.76), (0.70, 2.82), (0.705, 2.66), (0.71, 2.72), (0.715, 2.60),
    (0.72, 2.78), (0.73, 2.66), (0.74, 2.74), (0.75, 2.82), (0.76, 2.66), (0.58, 2.72),
    (0.57, 2.64), (0.56, 2.78), (0.55, 2.68), (0.54, 2.62), (0.53, 2.76), (0.52, 2.66),
    (0.51, 2.58), (0.50, 2.72), (0.49, 2.64), (0.48, 2.76), (0.46, 2.68), (0.44, 2.62),
    (0.42, 2.70), (0.40, 2.78), (0.36, 2.68), (0.32, 2.66), (0.78, 2.76), (0.80, 2.80),
    (0.82, 2.70), (0.66, 2.92),
]

# fitted lines (intercept, slope)
fits = {
    'crp_neg': (3.09, -0.19), 'crp_pos': (3.34, 0.20),
    'saa_neg': (3.11, -0.16), 'saa_pos': (3.24, 0.155),
    'vcam_neg': (2.826, 0.034), 'vcam_pos': (2.769, 0.091),
    'icam_neg': (2.638, -0.071), 'icam_pos': (2.68, 0.123),
}

markers = ['CRP', 'SAA', 'VCAM', 'ICAM']
ylabels = ['log10 CRP', 'log10 SAA', 'log10 VCAM-1', 'log10 ICAM-1']
neg_data = [crp_neg + crp_neg_core, saa_neg + saa_neg_core,
            vcam_neg + vcam_neg_core, icam_neg + icam_neg_core]
pos_data = [crp_pos + crp_pos_core, saa_pos + saa_pos_core,
            vcam_pos + vcam_pos_core, icam_pos + icam_pos_core]
neg_ticks = [-0.8, -0.6, -0.4, -0.2, 0.0]
pos_ticks = [0.2, 0.4, 0.6, 0.8, 1.0]
wide_ticks = [1, 2, 3, 4, 5, 6]
narrow_ticks = [1.5, 2.0, 2.5, 3.0, 3.5]

GREY = '#a3a3a3'
W, H = 812, 1511
fig = plt.figure(figsize=(W / 100, H / 100), dpi=100)

for row in range(4):
    for col in range(2):
        left = 77 if col == 0 else 501
        top = 49 + 386.35 * row
        ax = fig.add_axes([left / W, 1 - (top + 236) / H, 322 / W, 236 / H])
        pts = np.array(neg_data[row] if col == 0 else pos_data[row])
        color = 'black' if col == 0 else GREY
        key = markers[row].lower() + ('_neg' if col == 0 else '_pos')
        b, m = fits[key]

        ax.scatter(pts[:, 0], pts[:, 1], s=22, facecolors='none', edgecolors=color,
                   linewidths=0.85, zorder=3)
        ax.axline((0, b), slope=m, color=color, lw=0.85, zorder=2)

        if col == 0:
            ax.set_xlim(-0.918, 0.065)
            ax.set_xticks(neg_ticks)
        else:
            ax.set_xlim(0.0035, 1.081)
            ax.set_xticks(pos_ticks)
        ax.xaxis.set_major_formatter(FormatStrFormatter('%.1f'))
        if row < 2:
            ax.set_ylim(0.78, 6.72)
            ax.set_yticks(wide_ticks)
            ax.yaxis.set_major_formatter(FormatStrFormatter('%d'))
        else:
            ax.set_ylim(1.42, 3.58)
            ax.set_yticks(narrow_ticks)
            ax.yaxis.set_major_formatter(FormatStrFormatter('%.1f'))

        ax.tick_params(direction='out', length=6, width=0.8, labelsize=10, colors='black')
        ax.tick_params(axis='x', pad=10)
        ax.tick_params(axis='y', pad=7, labelrotation=90)
        for lab in ax.get_yticklabels():
            lab.set_va('center')
        for sp in ax.spines.values():
            sp.set_linewidth(1.0)
            sp.set_color('black')

        sign = '-' if col == 0 else '+'
        ax.text(0.5, 1 + 32 / 236, f'{markers[row]} (HCMV{sign})', transform=ax.transAxes,
                ha='center', va='center', fontsize=12.2, fontweight='bold')
        ax.set_xlabel('log10 HCMV ratio', fontsize=10, va='center')
        ax.xaxis.set_label_coords(0.5, -59 / 236)
        ax.set_ylabel(ylabels[row], fontsize=10, va='center')
        ax.yaxis.set_label_coords(-0.172, 0.5)

fig.savefig('out.png', dpi=100)
